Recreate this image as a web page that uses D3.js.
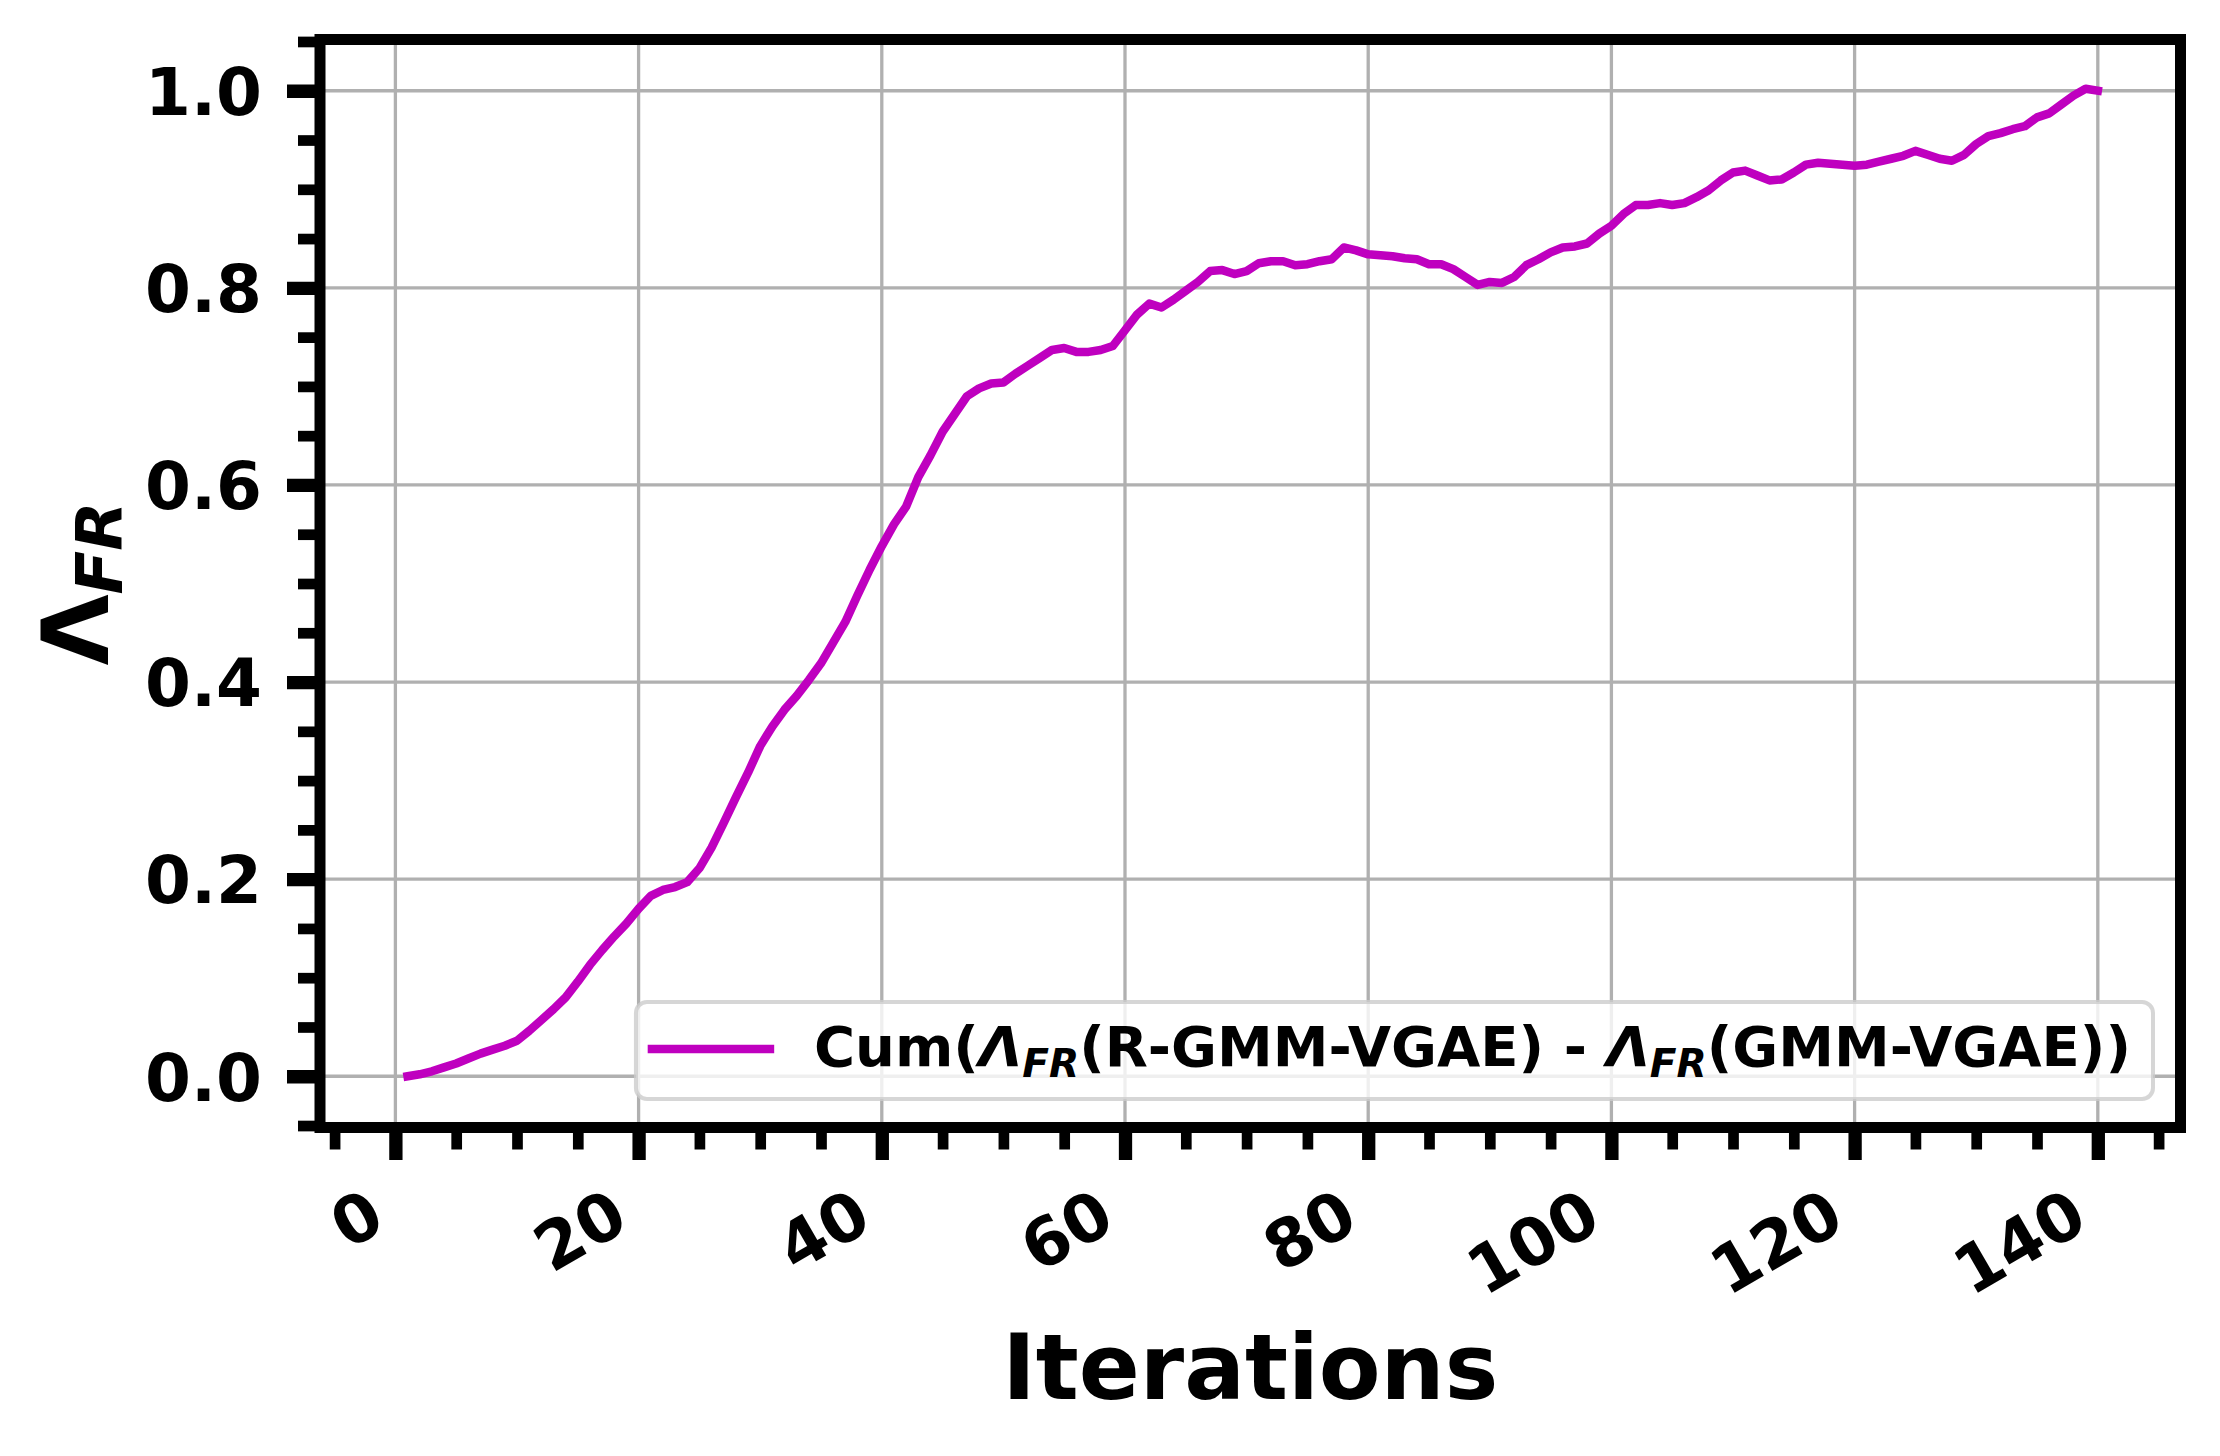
<!DOCTYPE html>
<html>
<head>
<meta charset="utf-8">
<script src="https://cdn.jsdelivr.net/npm/d3@7"></script>
<style>
  html, body { margin: 0; padding: 0; background: #fff; }
  svg { display: block; }
  text { font-family: "DejaVu Sans", sans-serif; }
</style>
</head>
<body>
<svg id="chart" width="2220" height="1456"></svg>
<script>
// ---------------- data ----------------
const iterations = d3.range(1, 141);
const cumDiff = [
  0.000,0.002,0.005,0.009,0.013,0.018,0.023,0.027,0.031,0.036,
  0.046,0.057,0.068,0.080,0.096,0.113,0.128,0.142,0.155,0.170,
  0.183,0.189,0.192,0.197,0.211,0.232,0.257,0.283,0.308,0.335,
  0.355,0.372,0.386,0.402,0.419,0.440,0.461,0.488,0.514,0.538,
  0.560,0.578,0.608,0.630,0.654,0.672,0.690,0.698,0.703,0.704,
  0.713,0.721,0.729,0.737,0.739,0.735,0.735,0.737,0.741,0.757,
  0.773,0.784,0.780,0.788,0.797,0.806,0.817,0.818,0.814,0.817,
  0.825,0.827,0.827,0.823,0.824,0.827,0.829,0.841,0.838,0.834,
  0.833,0.832,0.830,0.829,0.824,0.824,0.819,0.811,0.803,0.806,
  0.805,0.811,0.823,0.829,0.836,0.841,0.842,0.845,0.855,0.863,
  0.875,0.884,0.884,0.886,0.884,0.886,0.892,0.899,0.909,0.917,
  0.919,0.914,0.909,0.910,0.917,0.925,0.927,0.926,0.925,0.924,
  0.925,0.928,0.931,0.934,0.939,0.935,0.931,0.929,0.935,0.946,
  0.954,0.957,0.961,0.964,0.973,0.977,0.986,0.995,1.002,1.000
];
const xMajorTicks = [0, 20, 40, 60, 80, 100, 120, 140];
const xMinorTicks = [-5,5,10,15,25,30,35,45,50,55,65,70,75,85,90,95,105,110,115,125,130,135,145];
const yMajorTicks = [0.0, 0.2, 0.4, 0.6, 0.8, 1.0];
const yMinorTicks = [-0.05,0.05,0.10,0.15,0.25,0.30,0.35,0.45,0.50,0.55,0.65,0.70,0.75,0.85,0.90,0.95,1.05];
const xLabelText = "Iterations";

// ---------------- layout ----------------
const L = 320, R = 2180.5, T = 39.5, B = 1127.5;
const svg = d3.select("#chart");
const x = d3.scaleLinear().domain([-6.2, 146.8]).range([L, R]);
const y = d3.scaleLinear().domain([-0.052, 1.052]).range([B, T]);
const lineColor = "#bf00bf";
const lineW = 8.5;

// grid
const grid = svg.append("g");
grid.selectAll("line.vx").data(xMajorTicks).join("line")
  .attr("x1", d => x(d)).attr("x2", d => x(d)).attr("y1", T).attr("y2", B)
  .attr("stroke", "#b0b0b0").attr("stroke-width", 3.3);
grid.selectAll("line.hy").data(yMajorTicks).join("line")
  .attr("y1", d => y(d)).attr("y2", d => y(d)).attr("x1", L).attr("x2", R)
  .attr("stroke", "#b0b0b0").attr("stroke-width", 3.3);

// data line
const pts = iterations.map((it, i) => [it, cumDiff[i]]);
svg.append("path").datum(pts)
  .attr("fill", "none").attr("stroke", lineColor).attr("stroke-width", lineW)
  .attr("stroke-linejoin", "round").attr("stroke-linecap", "square")
  .attr("d", d3.line().x(d => x(d[0])).y(d => y(d[1])));

// legend
const legFont = 56;
const leg = svg.append("g");
const legText = leg.append("text").attr("font-size", legFont).attr("font-weight", "bold");
function addLam(t) {
  t.append("tspan").attr("font-style", "italic").text("Λ");
  t.append("tspan").attr("font-style", "italic")
    .attr("font-size", legFont * 0.7).attr("dy", legFont * 0.2).text("FR");
}
legText.append("tspan").text("Cum(");
addLam(legText);
legText.append("tspan").attr("dy", -legFont * 0.2).text("(R-GMM-VGAE) - ");
addLam(legText);
legText.append("tspan").attr("dy", -legFont * 0.2).text("(GMM-VGAE))");
const tl = legText.node().getComputedTextLength();
const boxR = 2153, boxB = 1099, boxT = 1002;
const textStart = boxR - 22 - tl;
const boxLft = textStart - 178;
legText.attr("x", textStart).attr("y", 1066);
leg.insert("rect", "text")
  .attr("x", boxLft).attr("y", boxT).attr("width", boxR - boxLft).attr("height", boxB - boxT)
  .attr("rx", 11).attr("ry", 11)
  .attr("fill", "#fff").attr("fill-opacity", 0.8)
  .attr("stroke", "#cccccc").attr("stroke-opacity", 0.8).attr("stroke-width", 4);
leg.append("line").attr("x1", textStart - 162).attr("x2", textStart - 44)
  .attr("y1", 1049).attr("y2", 1049)
  .attr("stroke", lineColor).attr("stroke-width", lineW).attr("stroke-linecap", "square");

// axes ticks
const tickFont = 66;
const xMinor = svg.append("g").attr("transform", `translate(0,${B})`)
  .call(d3.axisBottom(x).tickValues(xMinorTicks).tickSize(22).tickFormat(""));
xMinor.select(".domain").remove();
xMinor.selectAll("line").attr("stroke", "#000").attr("stroke-width", 10.7);

const xMajor = svg.append("g").attr("transform", `translate(0,${B})`)
  .call(d3.axisBottom(x).tickValues(xMajorTicks).tickSize(32.5).tickFormat(d3.format("d")));
xMajor.select(".domain").remove();
xMajor.selectAll("line").attr("stroke", "#000").attr("stroke-width", 13.3);
const asc = 0.928 * tickFont, desc = 0.236 * tickFont;
xMajor.selectAll("text")
  .attr("fill", "#000").attr("font-size", tickFont).attr("font-weight", "bold")
  .attr("font-family", "DejaVu Sans").attr("text-anchor", "end")
  .attr("y", 0).attr("dy", 0)
  .attr("transform", `translate(${-0.5 * desc},${32.5 + 14.6 + 0.866 * asc}) rotate(-30)`);

const yMinor = svg.append("g").attr("transform", `translate(${L},0)`)
  .call(d3.axisLeft(y).tickValues(yMinorTicks).tickSize(22).tickFormat(""));
yMinor.select(".domain").remove();
yMinor.selectAll("line").attr("stroke", "#000").attr("stroke-width", 10.7);

const yMajor = svg.append("g").attr("transform", `translate(${L},0)`)
  .call(d3.axisLeft(y).tickValues(yMajorTicks).tickSize(33).tickPadding(25).tickFormat(d3.format(".1f")));
yMajor.select(".domain").remove();
yMajor.selectAll("line").attr("stroke", "#000").attr("stroke-width", 13.3);
yMajor.selectAll("text").attr("fill", "#000").attr("font-size", tickFont).attr("font-weight", "bold")
  .attr("font-family", "DejaVu Sans").attr("dy", "0.36em");

// spines
svg.append("rect").attr("x", L).attr("y", T).attr("width", R - L).attr("height", B - T)
  .attr("fill", "none").attr("stroke", "#000").attr("stroke-width", 11);

// axis labels
svg.append("text").attr("x", (L + R) / 2).attr("y", 1399)
  .attr("text-anchor", "middle").attr("font-size", 90).attr("font-weight", "bold")
  .text(xLabelText);

const yl = svg.append("text").attr("text-anchor", "middle")
  .attr("transform", `translate(108,${(T + B) / 2}) rotate(-90)`)
  .attr("font-size", 92).attr("font-weight", "bold");
yl.append("tspan").text("Λ");
yl.append("tspan").attr("font-style", "italic").attr("font-size", 64).attr("dy", 14).text("FR");
</script>
</body>
</html>
